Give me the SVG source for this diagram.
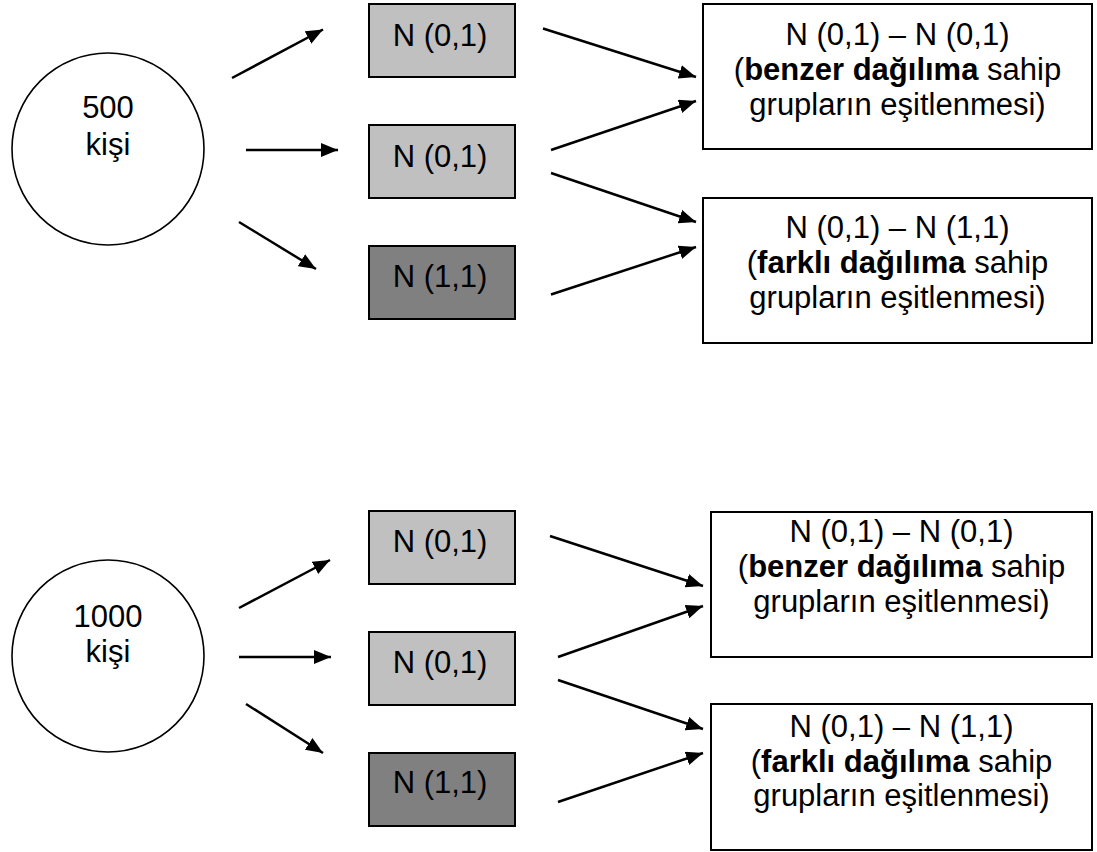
<svg xmlns="http://www.w3.org/2000/svg" width="1097" height="852" viewBox="0 0 1097 852">
<defs>
<marker id="ah" markerUnits="userSpaceOnUse" markerWidth="18" markerHeight="15" refX="17" refY="7" orient="auto">
<path d="M0,0 L17,7 L0,14 z" fill="#000"/>
</marker>
<style>
text{font-family:"Liberation Sans",Arial,sans-serif;font-size:31px;fill:#000;text-anchor:middle}
.b{font-weight:bold}
.circ{fill:#fff;stroke:#000;stroke-width:1.6}
.lg{fill:#c0c0c0;stroke:#000;stroke-width:2}
.dg{fill:#808080;stroke:#000;stroke-width:2}
.res{fill:#fff;stroke:#000;stroke-width:2}
.con line{stroke:#000;stroke-width:2.5;marker-end:url(#ah)}
</style>
</defs>
<rect width="1097" height="852" fill="#fff"/>

<g id="pop500"><circle class="circ" cx="108" cy="149" r="96"/><text x="108" y="118">500</text><text x="108" y="155">kişi</text></g>
<g id="t1"><rect class="lg" x="369" y="4" width="146" height="73"/><text x="440" y="45.5">N (0,1)</text></g>
<g id="t2"><rect class="lg" x="369" y="125" width="146" height="73"/><text x="440" y="166.5">N (0,1)</text></g>
<g id="t3"><rect class="dg" x="369" y="246" width="146" height="73"/><text x="440" y="287">N (1,1)</text></g>
<g id="rA"><rect class="res" x="703" y="4" width="389" height="145"/>
<text x="897.5" y="45">N (0,1) – N (0,1)</text>
<text x="897.5" y="80">(<tspan class="b">benzer dağılıma</tspan> sahip</text>
<text x="897.5" y="115">grupların eşitlenmesi)</text></g>
<g id="rB"><rect class="res" x="703" y="198" width="389" height="145"/>
<text x="897.5" y="238">N (0,1) – N (1,1)</text>
<text x="897.5" y="273">(<tspan class="b">farklı dağılıma</tspan> sahip</text>
<text x="897.5" y="308">grupların eşitlenmesi)</text></g>

<g id="pop1000"><circle class="circ" cx="108" cy="656" r="96"/><text x="108" y="627">1000</text><text x="108" y="662">kişi</text></g>
<g id="b1"><rect class="lg" x="369" y="511" width="146" height="73"/><text x="440" y="552">N (0,1)</text></g>
<g id="b2"><rect class="lg" x="369" y="632" width="146" height="73"/><text x="440" y="673">N (0,1)</text></g>
<g id="b3"><rect class="dg" x="369" y="753" width="146" height="73"/><text x="440" y="793">N (1,1)</text></g>
<g id="rC"><rect class="res" x="711" y="512" width="381" height="145"/>
<text x="901.5" y="542">N (0,1) – N (0,1)</text>
<text x="901.5" y="577">(<tspan class="b">benzer dağılıma</tspan> sahip</text>
<text x="901.5" y="612">grupların eşitlenmesi)</text></g>
<g id="rD"><rect class="res" x="711" y="704" width="381" height="146"/>
<text x="901.5" y="737">N (0,1) – N (1,1)</text>
<text x="901.5" y="772">(<tspan class="b">farklı dağılıma</tspan> sahip</text>
<text x="901.5" y="806">grupların eşitlenmesi)</text></g>

<g id="connectors" class="con">
<line x1="232" y1="78" x2="323" y2="29.5"/>
<line x1="246" y1="150" x2="338" y2="150"/>
<line x1="239" y1="222" x2="316" y2="269"/>
<line x1="543" y1="28.5" x2="696" y2="77"/>
<line x1="551" y1="150" x2="696" y2="101"/>
<line x1="551" y1="173" x2="696" y2="222"/>
<line x1="551" y1="294.5" x2="696" y2="247"/>
<line x1="239" y1="608" x2="330" y2="560"/>
<line x1="239" y1="657" x2="331" y2="657"/>
<line x1="246" y1="704" x2="323" y2="753"/>
<line x1="550" y1="536" x2="703" y2="586"/>
<line x1="558" y1="657" x2="703" y2="606"/>
<line x1="558" y1="680" x2="703" y2="729"/>
<line x1="558" y1="802" x2="703" y2="753"/>
</g>
</svg>
